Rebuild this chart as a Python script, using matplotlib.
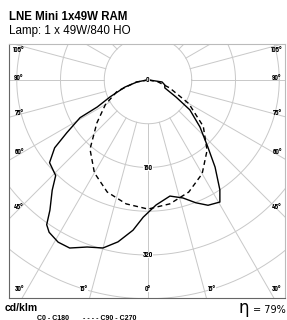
"""Polar light distribution of LNE Mini 1x49W RAM"""
import matplotlib.pyplot as plt
import numpy as np

TITLE = "LNE Mini 1x49W RAM"
LAMP = "Lamp: 1 x 49W/840 HO"
UNIT = "cd/klm"
ETA = 79

# C0 - C180 plane, gamma in degrees (negative = left half), intensity in cd/klm
C0_GAMMA = [-90, -80, -73, -66, -62, -61, -57, -54, -50, -44, -41, -37, -35,
            -33, -29, -25, -20, -15, -10.5, -5.7, -2, 3.7, 10.7, 16.5, 21.3,
            25.6, 30.5, 33.2, 37.6, 41.8, 47.9, 54.5, 58.7, 64.8, 73.6, 82, 90]
C0_I = [2, 20, 44, 76, 105, 142, 177, 211, 235, 243, 267, 298, 323,
        332, 339, 339, 325, 318, 301, 276, 251, 229, 216, 225, 241,
        254, 259, 240, 201, 164, 128, 94, 60, 34, 32, 26, 2]

# C90 - C270 plane
C90_GAMMA = [-90, -80, -70, -60, -50, -40, -30, -20, -10, 0,
             10, 20, 30, 40, 50, 60, 70, 80, 90]
C90_I = [0, 22, 60, 90, 122, 165, 196, 218, 230, 236,
         230, 218, 198, 168, 132, 86, 42, 18, 0]

RINGS = [80, 160, 240, 320, 400]
RING_LABELS = [160, 320]
SIDE_ANGLES = [105, 90, 75, 60, 45]
BOTTOM_ANGLES = [-30, -15, 0, 15, 30]

GRID = '#c8c8c8'
S = 160 / 87.5  # cd/klm per pixel
NARROW = ['Barlow Semi Condensed', 'Archivo Narrow', 'DejaVu Sans']
SANS = ['Liberation Sans', 'DejaVu Sans']


def to_xy(gamma, inten):
    g = np.radians(np.asarray(gamma, dtype=float))
    r = np.asarray(inten, dtype=float)
    return r * np.sin(g), -r * np.cos(g)


fig = plt.figure(figsize=(2.87, 3.2), dpi=100)
ax = fig.add_axes([9 / 287, 22 / 320, 276 / 287, 254 / 320])
ax.set_xlim(-139 * S, 137 * S)
ax.set_ylim(-218 * S, 36 * S)
ax.set_xticks([])
ax.set_yticks([])
for side, col in (('left', '#666666'), ('bottom', '#666666'),
                  ('top', '#bbbbbb'), ('right', '#bbbbbb')):
    ax.spines[side].set_color(col)
    ax.spines[side].set_linewidth(0.8)

# grid
t = np.linspace(0, 2 * np.pi, 400)
for r in RINGS:
    ax.plot(r * np.cos(t), r * np.sin(t), color=GRID, lw=0.7, zorder=1)
for a in range(0, 360, 15):
    x, y = to_xy([a, a], [RINGS[0], 1000])
    ax.plot(x, y, color=GRID, lw=0.7, zorder=1)

# curves
x, y = to_xy(C0_GAMMA, C0_I)
ax.plot(x, y, color='black', lw=1.0, zorder=3)
x, y = to_xy(C90_GAMMA, C90_I)
ax.plot(x, y, color='black', lw=1.0, ls=(0, (3.5, 2.5)), zorder=3)

lab = dict(fontsize=5, fontweight='bold', ha='center', va='center',
           family=NARROW, zorder=4)
bg = dict(fc='white', ec='none', pad=0.2)
ax.text(0, 0, "0", bbox=bg, **lab)
for v in RING_LABELS:
    ax.text(0, -v, str(v), bbox=bg, **lab)

xs = 129 * S
for a in SIDE_ANGLES:
    g = np.radians(a)
    yy = -xs * np.cos(g) / np.sin(g) + 2 * S
    yy = min(yy, 30 * S)
    for sgn in (-1, 1):
        ax.text(sgn * xs, yy, f"{a}°", **lab)

yb = -209 * S
for b in BOTTOM_ANGLES:
    xx = -yb * np.tan(np.radians(b)) + np.sign(b) * 8 * S
    ax.text(xx, yb, f"{abs(b)}°", bbox=bg, **lab)

# header / footer texts
fig.text(9 / 287, 1 - 17 / 320, TITLE, fontsize=8.3, fontweight='bold',
         family=SANS, va='center', ha='left')
fig.text(9 / 287, 1 - 31 / 320, LAMP, fontsize=8.4, family=SANS,
         va='center', ha='left')
fig.text(5 / 287, 1 - 308 / 320, UNIT, fontsize=7.5, fontweight='bold',
         family=SANS, va='center', ha='left')
fig.text(286 / 287, 1 - 310 / 320, f"= {ETA}%", fontsize=7,
         family=['DejaVu Sans'], va='center', ha='right')
fig.text(249 / 287, 1 - 308 / 320, "η", fontsize=12, family=['DejaVu Sans'],
         va='center', ha='right')
fig.text(37 / 287, 1 - 318 / 320, "C0 - C180", fontsize=5, fontweight='bold',
         family=SANS, va='center', ha='left')
fig.text(83 / 287, 1 - 318 / 320, "- - - - C90 - C270", fontsize=5,
         fontweight='bold', family=SANS, va='center', ha='left')

fig.savefig('out.png', dpi=100)
